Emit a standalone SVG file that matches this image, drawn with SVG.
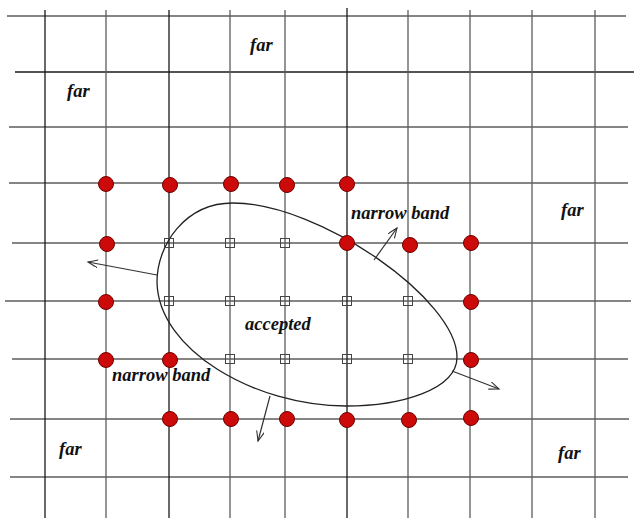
<svg xmlns="http://www.w3.org/2000/svg" width="636" height="519" viewBox="0 0 636 519">
<style>
.g{stroke:#5c5c5c;stroke-width:1.3;fill:none}
.d{stroke:#1a1a1a;stroke-width:1.3;fill:none}
.dot{fill:#cc0a0a;stroke:#6e0000;stroke-width:1}
.sq{fill:none;stroke:#444;stroke-width:1}
.t{font-family:"Liberation Serif",serif;font-style:italic;font-weight:bold;font-size:18.5px;fill:#111}
.front{fill:none;stroke:#222;stroke-width:1.3}
.arr{fill:none;stroke:#333;stroke-width:1.2;marker-end:url(#ah)}
</style>
<defs>
<marker id="ah" markerUnits="userSpaceOnUse" markerWidth="12" markerHeight="10" refX="10" refY="4" orient="auto">
<path d="M0,0 L10,4 L0,8" fill="none" stroke="#333" stroke-width="1.1"/>
</marker>
</defs>
<rect width="636" height="519" fill="#fff"/>
<g id="grid">
<line class="g" x1="7" y1="16" x2="626" y2="16"/>
<line class="d" x1="15" y1="72" x2="634" y2="72"/>
<line class="g" x1="9" y1="127" x2="628" y2="127"/>
<line class="g" x1="9" y1="183" x2="628" y2="183"/>
<line class="g" x1="12" y1="243" x2="628" y2="243"/>
<line class="g" x1="5" y1="301" x2="631" y2="301"/>
<line class="g" x1="12" y1="359" x2="628" y2="359"/>
<line class="g" x1="10" y1="419" x2="629" y2="419"/>
<line class="g" x1="10" y1="477" x2="628" y2="477"/>
<line class="d" x1="45" y1="10" x2="45" y2="518"/>
<line class="g" x1="106" y1="10" x2="106" y2="518"/>
<line class="d" x1="169" y1="10" x2="169" y2="518"/>
<line class="g" x1="230" y1="10" x2="230" y2="518"/>
<line class="g" x1="285" y1="10" x2="285" y2="518"/>
<line class="d" x1="347" y1="8" x2="347" y2="518"/>
<line class="g" x1="408" y1="10" x2="408" y2="518"/>
<line class="g" x1="470" y1="10" x2="470" y2="518"/>
<line class="g" x1="532" y1="10" x2="532" y2="518"/>
<line class="g" x1="595" y1="10" x2="595" y2="518"/>
</g>
<g id="front">
<path class="front" d="M233,203 C320,203 457,300 457,357 C457,390 400,406 346,406 C255,406 158,350 157,282 C157,245 185,203 233,203 Z"/>
</g>
<g id="connectors">
<line class="arr" x1="157" y1="275" x2="88" y2="262"/>
<line class="arr" x1="374" y1="260" x2="397" y2="228"/>
<line class="arr" x1="452" y1="371" x2="499" y2="389"/>
<line class="arr" x1="270" y1="396" x2="258" y2="441"/>
</g>
<g id="narrowband">
<circle id="nb1" class="dot" cx="106" cy="184" r="7.5"/>
<circle id="nb2" class="dot" cx="170" cy="185" r="7.5"/>
<circle id="nb3" class="dot" cx="231" cy="184" r="7.5"/>
<circle id="nb4" class="dot" cx="287" cy="185" r="7.5"/>
<circle id="nb5" class="dot" cx="347" cy="184" r="7.5"/>
<circle id="nb6" class="dot" cx="107" cy="244" r="7.5"/>
<circle id="nb7" class="dot" cx="347" cy="243" r="7.5"/>
<circle id="nb8" class="dot" cx="410" cy="245" r="7.5"/>
<circle id="nb9" class="dot" cx="471" cy="243" r="7.5"/>
<circle id="nb10" class="dot" cx="106" cy="302" r="7.5"/>
<circle id="nb11" class="dot" cx="471" cy="302" r="7.5"/>
<circle id="nb12" class="dot" cx="106" cy="360" r="7.5"/>
<circle id="nb13" class="dot" cx="170" cy="360" r="7.5"/>
<circle id="nb14" class="dot" cx="471" cy="360" r="7.5"/>
<circle id="nb15" class="dot" cx="170" cy="419" r="7.5"/>
<circle id="nb16" class="dot" cx="231" cy="419" r="7.5"/>
<circle id="nb17" class="dot" cx="287" cy="419" r="7.5"/>
<circle id="nb18" class="dot" cx="347" cy="420" r="7.5"/>
<circle id="nb19" class="dot" cx="409" cy="420" r="7.5"/>
<circle id="nb20" class="dot" cx="471" cy="418" r="7.5"/>
</g>
<g id="accepted">
<rect id="ac1" class="sq" x="164.5" y="238.5" width="9" height="9"/>
<rect id="ac2" class="sq" x="225.5" y="238.5" width="9" height="9"/>
<rect id="ac3" class="sq" x="280.5" y="238.5" width="9" height="9"/>
<rect id="ac4" class="sq" x="164.5" y="296.5" width="9" height="9"/>
<rect id="ac5" class="sq" x="225.5" y="296.5" width="9" height="9"/>
<rect id="ac6" class="sq" x="280.5" y="296.5" width="9" height="9"/>
<rect id="ac7" class="sq" x="342.5" y="296.5" width="9" height="9"/>
<rect id="ac8" class="sq" x="403.5" y="296.5" width="9" height="9"/>
<rect id="ac9" class="sq" x="225.5" y="354.5" width="9" height="9"/>
<rect id="ac10" class="sq" x="280.5" y="354.5" width="9" height="9"/>
<rect id="ac11" class="sq" x="342.5" y="354.5" width="9" height="9"/>
<rect id="ac12" class="sq" x="403.5" y="354.5" width="9" height="9"/>
</g>
<g id="labels">
<text class="t" x="250" y="51">far</text>
<text class="t" x="67" y="97">far</text>
<text class="t" x="561" y="216">far</text>
<text class="t" x="351" y="219">narrow band</text>
<text class="t" x="245" y="330">accepted</text>
<text class="t" x="112" y="381">narrow band</text>
<text class="t" x="59" y="455">far</text>
<text class="t" x="558" y="459">far</text>
</g>
</svg>
